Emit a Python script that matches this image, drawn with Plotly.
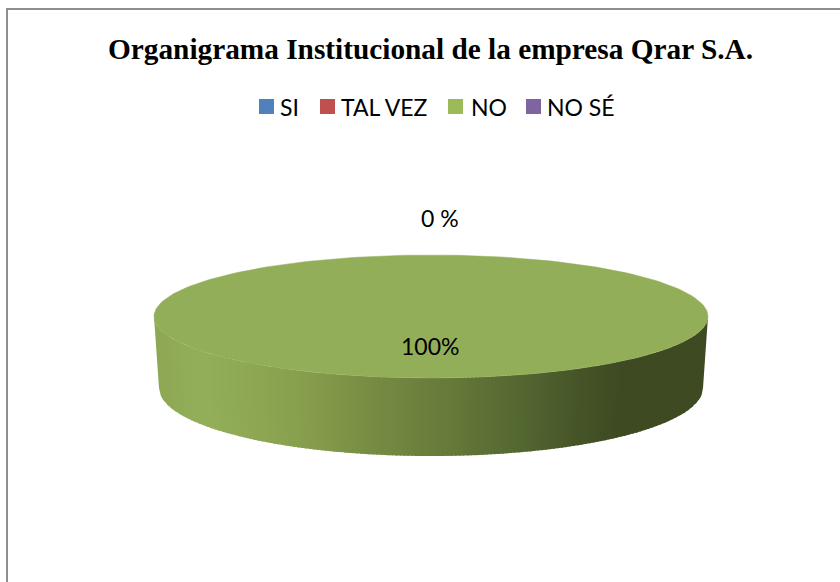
import numpy as np
import plotly.graph_objects as go

categories = ["SI", "TAL VEZ", "NO", "NO SÉ"]
values = [0, 0, 100, 0]
colors = ["#4F81BD", "#C0504D", "#9BBB59", "#8064A2"]
title_text = "Organigrama Institucional de la empresa Qrar S.A."
label_zero = "0 %"
label_full = "100%"

top_color = "#93AE58"
stop_x = [154, 190, 210, 300, 380, 430, 520, 580, 625, 708]
stop_rgb = [(141,167,84), (147,174,88), (147,174,88), (136,160,78), (117,138,66), (107,127,60), (85,104,50), (70,85,40), (62,74,34), (62,74,34)]

CX, RX, CY, RY = 431, 277, 316.5, 61.5
BX, BRX, BCY, BRY = 431, 272, 388, 68

# Legend placement (pixels)
swatch_x = [266.5, 327.5, 455.5, 533.5]
text_x = [280, 341, 471, 547]
legend_y = 106.5

def hexcol(x):
    return "rgb(%d,%d,%d)" % tuple(np.interp(x, stop_x, [c[i] for c in stop_rgb]) for i in range(3))

fig = go.Figure()

# Side wall of the visible slice, drawn as overlapping narrow strips (left to right)
edges = np.linspace(CX - RX, CX + RX, 139)
for a, b in zip(edges[:-1], edges[1:]):
    xa = np.linspace(a, min(b + 2, CX + RX), 4)
    ya = CY + RY * np.sqrt(np.clip(1 - ((xa - CX) / RX) ** 2, 0, 1))
    xb = BX + (xa - CX) * BRX / RX
    yb = BCY + BRY * np.sqrt(np.clip(1 - ((xb - BX) / BRX) ** 2, 0, 1))
    col = hexcol((a + b) / 2)
    fig.add_trace(go.Scatter(
        x=np.r_[xa, xb[::-1]], y=np.r_[ya, yb[::-1]], mode="lines", fill="toself",
        fillcolor=col, line=dict(color=col, width=0), showlegend=False, hoverinfo="skip"))

# Top face: each category gets a wedge sized from its share
total = sum(values)
start = 0.0
for cat, val in zip(categories, values):
    span = 2 * np.pi * val / total
    if val > 0:
        t = np.linspace(start, start + span, 240)
        fig.add_trace(go.Scatter(
            x=CX + RX * np.cos(t), y=CY + RY * np.sin(t), mode="lines", fill="toself",
            fillcolor=top_color, line=dict(color=top_color, width=0.5),
            showlegend=False, hoverinfo="skip"))
    start += span

# Legend entries: swatch marker plus real text label
for cat, col, sx, tx in zip(categories, colors, swatch_x, text_x):
    fig.add_trace(go.Scatter(
        x=[sx], y=[legend_y], mode="markers", name=cat, showlegend=False,
        marker=dict(symbol="square", size=15, color=col, line=dict(width=0))))
    fig.add_annotation(x=tx, y=legend_y, text=cat, showarrow=False, xanchor="left", xshift=-2,
                       font=dict(family="Lato", size=23, color="#000000"))

fig.add_annotation(x=430, y=346, text=label_full, showarrow=False, font=dict(family="Lato", size=23, color="#000000"))
fig.add_annotation(x=440, y=218, text=label_zero, showarrow=False, font=dict(family="Lato", size=23, color="#000000"))
fig.add_annotation(x=430, y=49, text="<b>%s</b>" % title_text, showarrow=False,
                   font=dict(family="Liberation Serif", size=29.3, color="#000000"))

# Chart frame, open on the right and bottom as in the reference crop
fig.add_shape(type="line", x0=7, x1=7, y0=9, y1=582, line=dict(color="#8E8E8E", width=2))
fig.add_shape(type="line", x0=6, x1=840, y0=9, y1=9, line=dict(color="#8E8E8E", width=2))

fig.update_layout(
    width=840, height=582, margin=dict(l=0, r=0, t=0, b=0),
    paper_bgcolor="white", plot_bgcolor="white",
    xaxis=dict(range=[0, 840], visible=False, fixedrange=True),
    yaxis=dict(range=[582, 0], visible=False, fixedrange=True),
    showlegend=False,
)
fig.write_html("out.html", config={"displayModeBar": False},
               post_script="document.body.style.margin='0';document.body.style.overflow='hidden';")
